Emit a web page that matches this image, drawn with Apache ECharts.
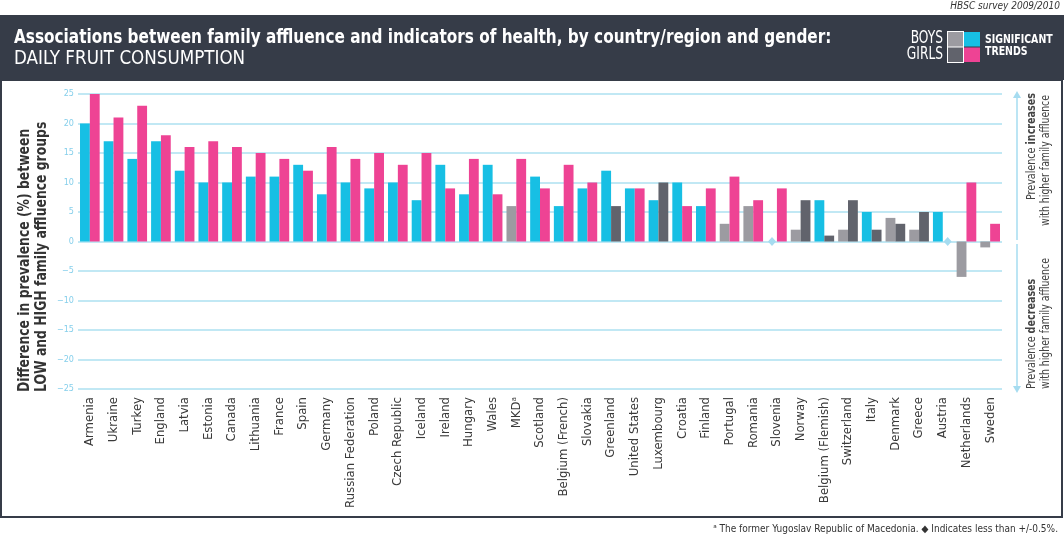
<!DOCTYPE html>
<html>
<head>
<meta charset="utf-8">
<script src="https://cdn.jsdelivr.net/npm/echarts@6/dist/echarts.min.js"></script>
<style>
html,body{margin:0;padding:0;background:#fff;}
#c{width:1064px;height:537px;}
</style>
</head>
<body>
<div id="c"></div>
<script>
const countries = ['Armenia','Ukraine','Turkey','England','Latvia','Estonia','Canada','Lithuania','France','Spain','Germany','Russian Federation','Poland','Czech Republic','Iceland','Ireland','Hungary','Wales','MKDᵃ','Scotland','Belgium (French)','Slovakia','Greenland','United States','Luxembourg','Croatia','Finland','Portugal','Romania','Slovenia','Norway','Belgium (Flemish)','Switzerland','Italy','Denmark','Greece','Austria','Netherlands','Sweden'];
const boys  = [20,17,14,17,12,10,10,11,11,13,8,10,9,10,7,13,8,13,6,11,6,9,12,9,7,10,6,3,6,0,2,7,2,5,4,2,5,-6,-1];
const girls = [25,21,23,18,16,17,16,15,14,12,16,14,15,13,15,9,14,8,14,9,13,10,6,9,10,6,9,11,7,9,7,1,7,2,3,5,0,10,3];
// 1 = significant trend, 0 = not significant
const boysSig  = [1,1,1,1,1,1,1,1,1,1,1,1,1,1,1,1,1,1,0,1,1,1,1,1,1,1,1,0,0,0,0,1,0,1,0,0,1,0,0];
const girlsSig = [1,1,1,1,1,1,1,1,1,1,1,1,1,1,1,1,1,1,1,1,1,1,0,1,0,1,1,1,1,1,0,0,0,0,0,0,0,1,1];
const yTicks = {min:-25, max:25, interval:5};

const C = {cyan:'#17bfe4', pink:'#ee4394', lgrey:'#9c9ba1', dgrey:'#61636c', grid:'#ade1f1', diamond:'#a6dcf0', dark:'#363c48', text:'#3a3a3a'};
const FONT = '"Liberation Sans Narrow","DejaVu Sans Condensed",sans-serif';

function mkData(vals, sig, col, ncol){
  return vals.map((v,i)=>({value:v, itemStyle:{color: sig[i]?col:ncol}}));
}
function mkDiamonds(vals){
  const out=[];
  vals.forEach((v,i)=>{ if(Math.abs(v)<0.5) out.push({coord:[countries[i],0]}); });
  return out;
}

const chart = echarts.init(document.getElementById('c'), null, {renderer:'canvas'});
const option = {
  animation:false,
  grid:{left:78, right:62, top:94, bottom:148, containLabel:false},
  xAxis:{
    type:'category', data:countries,
    axisLine:{show:false, onZero:false}, axisTick:{show:false},
    axisLabel:{interval:0, rotate:90, margin:8, color:C.text, fontFamily:FONT, fontSize:13}
  },
  yAxis:{
    type:'value', min:yTicks.min, max:yTicks.max, interval:yTicks.interval,
    axisLine:{show:false}, axisTick:{show:false},
    axisLabel:{color:'#86cfeb', fontFamily:FONT, fontSize:9, margin:4,
      formatter:v=>String(v).replace('-','−')},
    splitLine:{lineStyle:{color:C.grid, width:1.5}}
  },
  series:[
    {type:'bar', name:'Boys', data:mkData(boys,boysSig,C.cyan,C.lgrey), barGap:'0%', barCategoryGap:'17%',
      markPoint:{symbol:'diamond', symbolSize:[8,9], label:{show:false}, itemStyle:{color:C.diamond}, data:mkDiamonds(boys), silent:true}},
    {type:'bar', name:'Girls', data:mkData(girls,girlsSig,C.pink,C.dgrey), barGap:'0%', barCategoryGap:'17%',
      markPoint:{symbol:'diamond', symbolSize:[8,9], label:{show:false}, itemStyle:{color:C.diamond}, data:mkDiamonds(girls), silent:true}}
  ],
  graphic:[
    {type:'text', right:4, top:1, style:{text:'HBSC survey 2009/2010', font:'italic 10px '+FONT, fill:'#333'}},
    {type:'rect', shape:{x:0,y:15,width:1064,height:65}, style:{fill:C.dark}},
    {type:'rect', shape:{x:1,y:80,width:1061,height:437}, style:{fill:'none', stroke:C.dark, lineWidth:2}},
    {type:'text', x:14, y:38, scaleX:0.85, style:{text:'Associations between family affluence and indicators of health, by country/region and gender:', font:'bold 20px '+FONT, fill:'#fff', textVerticalAlign:'middle'}},
    {type:'text', x:14, y:59, scaleX:0.98, style:{text:'DAILY FRUIT CONSUMPTION', font:'19px '+FONT, fill:'#fff', textVerticalAlign:'middle'}},
    {type:'text', x:943, y:39, scaleX:0.8, style:{text:'BOYS', font:'17px '+FONT, fill:'#fff', textAlign:'right', textVerticalAlign:'middle'}},
    {type:'text', x:943, y:55, scaleX:0.8, style:{text:'GIRLS', font:'17px '+FONT, fill:'#fff', textAlign:'right', textVerticalAlign:'middle'}},
    {type:'rect', shape:{x:947,y:31,width:17,height:32}, style:{fill:'#fff'}},
    {type:'rect', shape:{x:948,y:32,width:15,height:14.5}, style:{fill:C.lgrey}},
    {type:'rect', shape:{x:964,y:32,width:16,height:14.5}, style:{fill:C.cyan}},
    {type:'rect', shape:{x:948,y:47.5,width:15,height:14.5}, style:{fill:C.dgrey}},
    {type:'rect', shape:{x:964,y:47.5,width:16,height:14.5}, style:{fill:C.pink}},
    {type:'text', x:985, y:40, scaleX:0.87, style:{text:'SIGNIFICANT', font:'bold 12px '+FONT, fill:'#fff', textVerticalAlign:'middle'}},
    {type:'text', x:985, y:52, scaleX:0.87, style:{text:'TRENDS', font:'bold 12px '+FONT, fill:'#fff', textVerticalAlign:'middle'}},
    {type:'text', x:25, y:392, rotation:Math.PI/2, scaleX:0.86, style:{text:'Difference in prevalence (%) between', font:'bold 16px '+FONT, fill:'#333', textAlign:'left', textVerticalAlign:'middle'}},
    {type:'text', x:42, y:392, rotation:Math.PI/2, scaleX:0.86, style:{text:'LOW and HIGH family affluence groups', font:'bold 16px '+FONT, fill:'#333', textAlign:'left', textVerticalAlign:'middle'}},
    {type:'line', shape:{x1:1017,y1:96,x2:1017,y2:240}, style:{stroke:C.diamond, lineWidth:1.5}},
    {type:'polygon', shape:{points:[[1013,98],[1021,98],[1017,91]]}, style:{fill:C.diamond}},
    {type:'line', shape:{x1:1017,y1:244,x2:1017,y2:388}, style:{stroke:C.diamond, lineWidth:1.5}},
    {type:'polygon', shape:{points:[[1013,386],[1021,386],[1017,393]]}, style:{fill:C.diamond}},
    {type:'text', x:1032, y:93, rotation:Math.PI/2, scaleX:0.82, style:{text:'{a|Prevalence }{b|increases}', rich:{a:{font:'13px '+FONT, fill:'#444'}, b:{font:'bold 13px '+FONT, fill:'#444'}}, textAlign:'right', textVerticalAlign:'middle'}},
    {type:'text', x:1046, y:95, rotation:Math.PI/2, scaleX:0.8, style:{text:'with higher family affluence', font:'13px '+FONT, fill:'#444', textAlign:'right', textVerticalAlign:'middle'}},
    {type:'text', x:1032, y:389, rotation:Math.PI/2, scaleX:0.82, style:{text:'{a|Prevalence }{b|decreases}', rich:{a:{font:'13px '+FONT, fill:'#444'}, b:{font:'bold 13px '+FONT, fill:'#444'}}, textAlign:'left', textVerticalAlign:'middle'}},
    {type:'text', x:1046, y:389, rotation:Math.PI/2, scaleX:0.8, style:{text:'with higher family affluence', font:'13px '+FONT, fill:'#444', textAlign:'left', textVerticalAlign:'middle'}},
    {type:'text', x:1058, y:529, style:{text:'ᵃ The former Yugoslav Republic of Macedonia. ◆ Indicates less than +/-0.5%.', font:'10px '+FONT, fill:'#333', textAlign:'right', textVerticalAlign:'middle'}}
  ]
};
chart.setOption(option);
</script>
</body>
</html>
